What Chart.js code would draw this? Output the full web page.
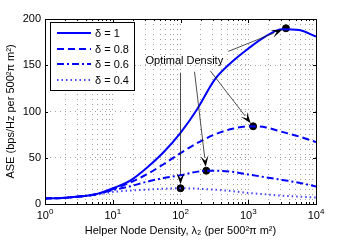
<!DOCTYPE html>
<html>
<head>
<meta charset="utf-8">
<script src="https://cdn.jsdelivr.net/npm/chart.js@4/dist/chart.umd.min.js"></script>
<style>
  html, body { margin: 0; padding: 0; background: #fff; }
  #wrap { width: 349px; height: 243px; }
</style>
</head>
<body>
<div id="wrap"><canvas id="myChart" width="349" height="243"></canvas></div>
<script>
// data
const density = [1, 1.78, 3.16, 5.62, 10, 17.8, 31.6, 56.2, 100, 178, 316, 562, 1000, 1778, 3162, 5623, 10000];
const ase_d1  = [6, 6.5, 8, 10.5, 17, 25, 39, 56, 77, 103, 134, 153, 168, 181, 189, 188, 181];
const ase_d08 = [6, 6.5, 8, 10.5, 16, 23, 32, 43, 55, 66, 75, 81, 84, 83, 78, 73, 67];
const ase_d06 = [6, 6.5, 8, 10.5, 15, 19, 24, 28, 31, 35, 36, 35, 32, 29, 26, 23, 19];
const ase_d04 = [6, 6.5, 8, 10, 13, 14.5, 15.5, 16.5, 17, 16.5, 15.5, 14, 12, 10.5, 9, 8, 7];
const seriesLabels = ['\u03b4 = 1', '\u03b4 = 0.8', '\u03b4 = 0.6', '\u03b4 = 0.4'];
// optimal density points
const optX = [3600, 1180, 240, 100];
const optY = [190, 84, 36, 17];
// annotation: text anchor and arrow tails (data coords)
const noteText = 'Optimal Density';
const noteAt = { x: 114, y: 155 };
const tailX = [508, 275, 161, 100];
const tailY = [165, 144, 143, 142];
const yTicks = [0, 50, 100, 150, 200];

const BLUE = '#0000ff';
const dashes = [[], [7, 4], [7, 3, 2, 3], [1.5, 3]];

function pts(ys) {
  return density.map((x, i) => ({ x: x, y: ys[i] }));
}

Chart.defaults.font.family = "'Liberation Sans', Arial, sans-serif";
Chart.defaults.font.size = 11;
Chart.defaults.color = '#000';

const lineBase = { borderWidth: 2, pointRadius: 0, cubicInterpolationMode: 'monotone' };
const data = {
  datasets: [
    Object.assign({ label: seriesLabels[0], data: pts(ase_d1), borderColor: BLUE, borderDash: dashes[0] }, lineBase),
    Object.assign({ label: seriesLabels[1], data: pts(ase_d08), borderColor: BLUE, borderDash: dashes[1] }, lineBase),
    Object.assign({ label: seriesLabels[2], data: pts(ase_d06), borderColor: BLUE, borderDash: dashes[2] }, lineBase),
    Object.assign({ label: seriesLabels[3], data: pts(ase_d04), borderColor: '#4444ff', borderDash: dashes[3] }, lineBase),
    { label: 'opt', type: 'scatter', data: optX.map((x, i) => ({ x: x, y: optY[i] })),
      backgroundColor: '#000', borderColor: '#000', pointRadius: 3.5, showLine: false }
  ]
};

// frame, inward ticks, x tick labels, legend, annotations
const decor = {
  id: 'decor',
  afterDraw(chart) {
    const ctx = chart.ctx;
    const a = chart.chartArea;
    const xs = chart.scales.x, ys = chart.scales.y;
    ctx.save();
    ctx.setLineDash([]);
    ctx.strokeStyle = '#000';
    ctx.lineWidth = 1;
    // ticks
    ctx.beginPath();
    xs.ticks.forEach(t => {
      const px = Math.round(xs.getPixelForValue(t.value)) + 0.5;
      const major = Math.abs(Math.log10(t.value) - Math.round(Math.log10(t.value))) < 1e-6;
      const len = major ? 4 : 2;
      ctx.moveTo(px, a.bottom); ctx.lineTo(px, a.bottom - len);
      ctx.moveTo(px, a.top); ctx.lineTo(px, a.top + len);
    });
    yTicks.forEach(v => {
      const py = Math.round(ys.getPixelForValue(v)) + 0.5;
      ctx.moveTo(a.left, py); ctx.lineTo(a.left + 3, py);
      ctx.moveTo(a.right, py); ctx.lineTo(a.right - 3, py);
    });
    ctx.stroke();
    // frame
    ctx.strokeRect(Math.round(a.left) + 0.5, Math.round(a.top) + 0.5,
      Math.round(a.right - a.left), Math.round(a.bottom - a.top));

    // x tick labels 10^n
    ctx.fillStyle = '#000';
    ctx.textBaseline = 'alphabetic';
    for (let n = 0; n <= 4; n++) {
      const px = xs.getPixelForValue(Math.pow(10, n));
      ctx.font = "11px 'Liberation Sans', Arial, sans-serif";
      const w1 = ctx.measureText('10').width;
      ctx.font = "8px 'Liberation Sans', Arial, sans-serif";
      const w2 = ctx.measureText(String(n)).width;
      const x0 = px - (w1 + w2) / 2;
      ctx.font = "11px 'Liberation Sans', Arial, sans-serif";
      ctx.textAlign = 'left';
      ctx.fillText('10', x0, a.bottom + 15);
      ctx.font = "8px 'Liberation Sans', Arial, sans-serif";
      ctx.fillText(String(n), x0 + w1, a.bottom + 10);
    }

    // legend box
    const lx = 50, ly = 22, lw = 84, lh = 68;
    ctx.fillStyle = '#fff';
    ctx.fillRect(lx, ly, lw, lh);
    ctx.strokeRect(lx + 0.5, ly + 0.5, lw, lh);
    const rows = [33, 49, 64, 80];
    ctx.font = "11px 'Liberation Sans', Arial, sans-serif";
    ctx.textBaseline = 'middle';
    ctx.textAlign = 'left';
    for (let i = 0; i < 4; i++) {
      const ds = chart.data.datasets[i];
      ctx.beginPath();
      ctx.setLineDash(ds.borderDash);
      ctx.strokeStyle = ds.borderColor;
      ctx.lineWidth = 2;
      ctx.moveTo(57, rows[i]); ctx.lineTo(91, rows[i]);
      ctx.stroke();
      ctx.setLineDash([]);
      ctx.fillStyle = '#000';
      ctx.fillText(ds.label, 95, rows[i] + 1);
    }

    // annotation text
    const tx = xs.getPixelForValue(noteAt.x), ty = ys.getPixelForValue(noteAt.y);
    ctx.textAlign = 'center';
    ctx.fillStyle = '#000';
    ctx.fillText(noteText, tx, ty);

    // arrows
    ctx.strokeStyle = '#222';
    ctx.lineWidth = 0.8;
    for (let i = 0; i < 4; i++) {
      const x1 = xs.getPixelForValue(tailX[i]), y1 = ys.getPixelForValue(tailY[i]);
      const dx0 = xs.getPixelForValue(optX[i]), dy0 = ys.getPixelForValue(optY[i]);
      const ang = Math.atan2(dy0 - y1, dx0 - x1);
      const x2 = dx0 - 4 * Math.cos(ang), y2 = dy0 - 4 * Math.sin(ang);
      const L = 9, back = 6;
      const bx = x2 - L * Math.cos(ang), by = y2 - L * Math.sin(ang);
      ctx.beginPath();
      ctx.moveTo(x1, y1); ctx.lineTo(bx, by);
      ctx.stroke();
      // vback head
      const hw = 4;
      const px = -Math.sin(ang), py = Math.cos(ang);
      const ix = x2 - back * Math.cos(ang), iy = y2 - back * Math.sin(ang);
      const wx = x2 - (L + 2) * Math.cos(ang), wy = y2 - (L + 2) * Math.sin(ang);
      ctx.beginPath();
      ctx.moveTo(x2, y2);
      ctx.lineTo(wx + hw * px, wy + hw * py);
      ctx.lineTo(ix, iy);
      ctx.lineTo(wx - hw * px, wy - hw * py);
      ctx.closePath();
      ctx.fillStyle = '#000';
      ctx.fill();
    }
    ctx.restore();
  }
};

const options = {
  responsive: false,
  animation: false,
  layout: { padding: { left: 0, right: 33, top: 19, bottom: 0 } },
  plugins: { legend: { display: false }, tooltip: { enabled: false } },
  scales: {
    x: {
      type: 'logarithmic',
      min: 1, max: 10000,
      afterBuildTicks(scale) {
        const t = [];
        for (let d = 0; d < 4; d++) for (let k = 1; k <= 9; k++) t.push({ value: k * Math.pow(10, d) });
        t.push({ value: 10000 });
        scale.ticks = t;
      },
      afterFit(scale) { scale.height = 39; },
      ticks: { display: false },
      grid: { color: '#a0a0a0', lineWidth: 1, drawTicks: false },
      border: { display: false, dash: [1, 4] },
      title: { display: true, text: 'Helper Node Density, \u03bb\u2082 (per 500\u00b2\u03c0 m\u00b2)', padding: { top: 0, bottom: 5 }, font: { size: 11 } }
    },
    y: {
      min: 0, max: 200,
      afterBuildTicks(scale) { scale.ticks = yTicks.map(v => ({ value: v })); },
      afterFit(scale) { scale.width = 45; },
      ticks: { padding: 4, font: { size: 11 } },
      grid: { color: '#a0a0a0', lineWidth: 1, drawTicks: false },
      border: { display: false, dash: [1, 4] },
      title: { display: true, text: 'ASE (bps/Hz per 500\u00b2\u03c0 m\u00b2)', padding: { top: 4, bottom: 0 }, font: { size: 11 } }
    }
  }
};

const config = { type: 'line', data, options, plugins: [decor] };

const myChart = new Chart(document.getElementById('myChart'), config);
</script>
</body>
</html>
